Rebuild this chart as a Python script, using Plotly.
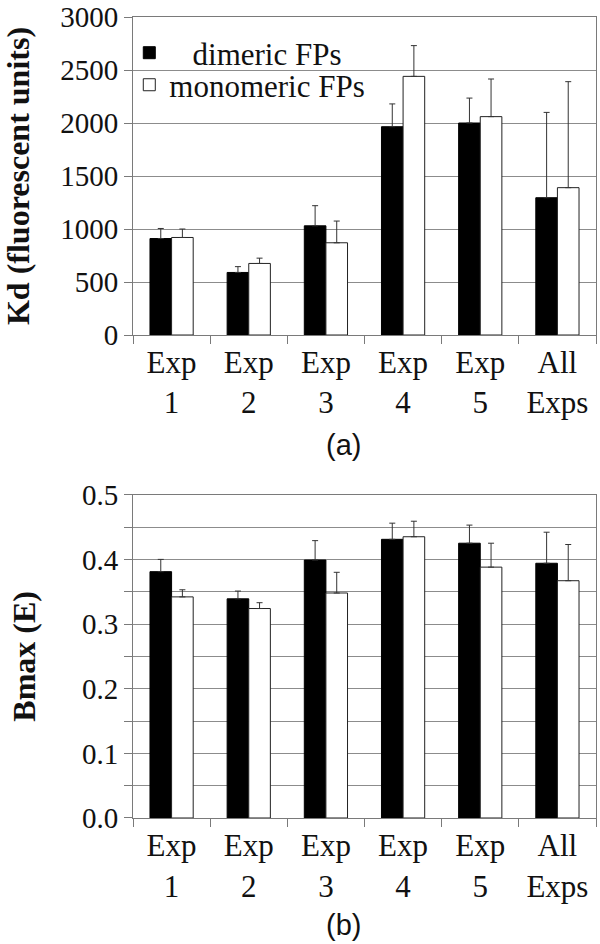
import plotly.graph_objects as go
from plotly.subplots import make_subplots

# categorias do eixo x
exps = ["Exp<br>1", "Exp<br>2", "Exp<br>3", "Exp<br>4", "Exp<br>5", "All<br>Exps"]

# painel (a) Kd
kd_dim = [910, 590, 1030, 1965, 2000, 1295]
kd_dim_err = [95, 55, 190, 215, 235, 805]
kd_mono = [920, 675, 870, 2440, 2060, 1390]
kd_mono_err = [80, 50, 205, 290, 355, 1000]

# painel (b) Bmax
bm_dim = [0.381, 0.339, 0.399, 0.431, 0.425, 0.394]
bm_dim_err = [0.019, 0.012, 0.030, 0.025, 0.028, 0.048]
bm_mono = [0.342, 0.324, 0.348, 0.435, 0.388, 0.367]
bm_mono_err = [0.011, 0.009, 0.032, 0.024, 0.037, 0.056]

serif = "Liberation Serif"
sans = "Liberation Sans"
txt = "#111111"
grid = "#8c8c8c"
axc = "#7a7a7a"

fig = make_subplots(rows=2, cols=1)


def err(vals):
    return dict(type="data", symmetric=False, array=vals, arrayminus=[0] * len(vals),
                color="#333333", thickness=1, width=3)


# barras pretas e brancas
fig.add_trace(go.Bar(x=exps, y=kd_dim, error_y=err(kd_dim_err), name="\u00a0\u00a0\u00a0dimeric FPs",
                     marker=dict(color="black", line=dict(color="black", width=1)),
                     legend="legend"), row=1, col=1)
fig.add_trace(go.Bar(x=exps, y=kd_mono, error_y=err(kd_mono_err), name="monomeric FPs",
                     marker=dict(color="white", line=dict(color="#222222", width=1)),
                     legend="legend2"), row=1, col=1)
fig.add_trace(go.Bar(x=exps, y=bm_dim, error_y=err(bm_dim_err), showlegend=False,
                     marker=dict(color="black", line=dict(color="black", width=1))), row=2, col=1)
fig.add_trace(go.Bar(x=exps, y=bm_mono, error_y=err(bm_mono_err), showlegend=False,
                     marker=dict(color="white", line=dict(color="#222222", width=1))), row=2, col=1)

fig.update_xaxes(type="category", tickson="boundaries", ticks="outside", ticklen=8, tickcolor=axc,
                 showline=True, linecolor=axc, mirror=True, showgrid=False, automargin=False,
                 ticklabeloverflow="allow", tickfont=dict(family=serif, size=31, color=txt))

fig.update_yaxes(range=[0, 3000], dtick=500, row=1, col=1,
                 title=dict(text="<b>Kd (fluorescent units)</b>", standoff=36,
                            font=dict(family=serif, size=32, color=txt)))
fig.update_yaxes(range=[0, 0.5], dtick=0.1, tickformat=".1f", row=2, col=1,
                 minor=dict(dtick=0.05, ticks="outside", ticklen=8, tickcolor=axc,
                            showgrid=True, gridcolor=grid, gridwidth=1),
                 title=dict(text="<b>Bmax (E)</b>", standoff=36,
                            font=dict(family=serif, size=32, color=txt)))
fig.update_yaxes(ticks="outside", ticklen=8, tickcolor=axc, showline=True, linecolor=axc,
                 mirror=True, showgrid=True, gridcolor=grid, gridwidth=1, zeroline=False,
                 automargin=False, ticklabeloverflow="allow",
                 tickfont=dict(family=serif, size=29, color=txt))

leg = dict(bgcolor="rgba(0,0,0,0)", font=dict(family=serif, size=31, color=txt),
           xanchor="left", yanchor="middle", x=-0.008)

fig.update_layout(
    width=600, height=944,
    margin=dict(l=133, r=4, t=17, b=126),
    plot_bgcolor="white", paper_bgcolor="white",
    barmode="group", bargap=0.44, bargroupgap=0,
    yaxis=dict(domain=[0.603, 1]),
    yaxis2=dict(domain=[0, 0.4036]),
    legend=dict(leg, y=0.955),
    legend2=dict(leg, y=0.915),
    annotations=[
        dict(text="(a)", xref="paper", yref="paper", x=0.4536, y=0.4657, yanchor="middle",
             showarrow=False, font=dict(family=sans, size=29, color=txt)),
        dict(text="(b)", xref="paper", yref="paper", x=0.4536, y=-0.1336, yanchor="middle",
             showarrow=False, font=dict(family=sans, size=29, color=txt)),
    ],
)

# tira a margem do body pra figura ficar em 0,0
fig.write_html("out.html", config={"displayModeBar": False},
               post_script="document.body.style.margin='0';")
